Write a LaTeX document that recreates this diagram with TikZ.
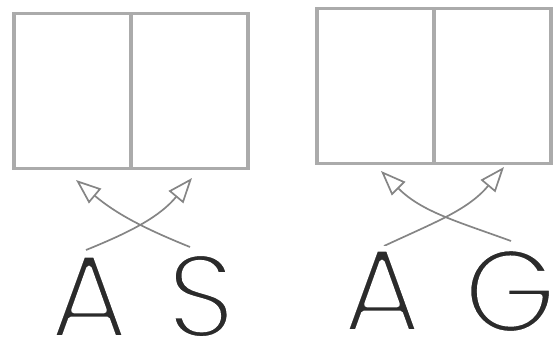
\documentclass[tikz,border=0pt]{standalone}
\usepackage{fontspec}
\usepackage{tikz}
\usetikzlibrary{arrows.meta, positioning}
\newfontfamily\letterfont{Poppins}
% thinner strokes: fill, then stroke the outline in white
\newcommand\thinletter[1]{\special{pdf:literal direct 2 Tr 1 1 1 RG 5.5 w 1 j}#1\special{pdf:literal direct 0 Tr}}
\definecolor{slotgray}{HTML}{ABABAB}
\definecolor{arrowgray}{HTML}{858585}
\definecolor{lettergray}{HTML}{2B2B2B}

\begin{document}
\begin{tikzpicture}[
  x=1pt, y=1pt,
  slot/.style={draw=slotgray, line width=3.5pt, minimum width=117pt, minimum height=155pt, inner sep=0pt, outer sep=0pt},
  letter/.style={anchor=base, inner sep=0pt, text depth=0pt, text=lettergray, font=\letterfont\fontsize{120}{120}\selectfont},
  swaparrow/.style={draw=arrowgray, line width=1.7pt, -{Triangle[open, length=25pt, width=19pt]}}
]
\useasboundingbox (0,0) rectangle (553,340);

% Left pair of slots
\node[slot] (s1) at (72.5,249) {};
\node[slot, right=0pt of s1] (s2) {};

% Right pair of slots
\node[slot] (s3) at (375.5,254) {};
\node[slot, right=0pt of s3] (s4) {};

% Arrow ends
\coordinate (a1 out) at (86,90);
\coordinate (s out) at (190,93);
\coordinate (s1 in) at (76,160);
\coordinate (s2 in) at (192,162);
\coordinate (a2 out) at (384,94);
\coordinate (g out) at (511,99);
\coordinate (s3 in) at (381,169);
\coordinate (s4 in) at (504,173);

% Swaps
\draw[swaparrow] (a1 out) to[out=22, in=230] (s2 in);
\draw[swaparrow] (s out) to[out=158, in=-40] (s1 in);
\draw[swaparrow] (a2 out) to[out=25, in=230] (s4 in);
\draw[swaparrow] (g out) to[out=160, in=-45] (s3 in);

% Letters
\node[letter] (a1) at (89,2) {\thinletter{A}};
\node[letter] (s) at (201,2) {\thinletter{S}};
\node[letter] (a2) at (382,8) {\thinletter{A}};
\node[letter] (g) at (510,7) {\thinletter{G}};

\end{tikzpicture}
\end{document}
